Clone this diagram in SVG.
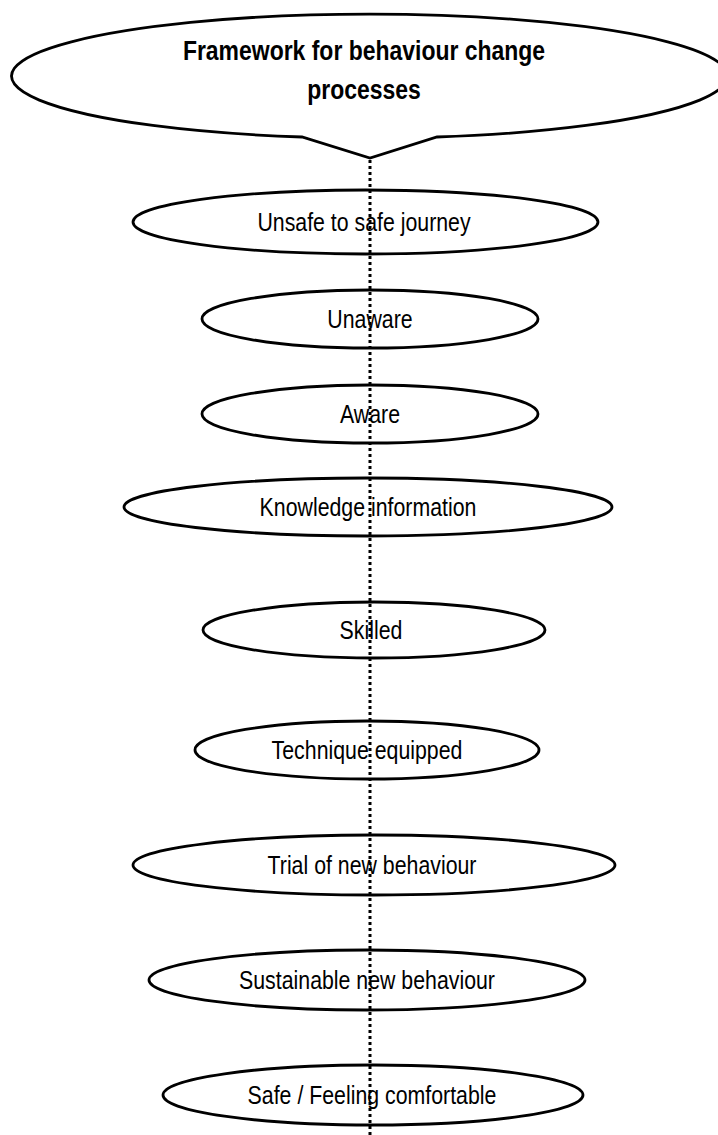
<svg xmlns="http://www.w3.org/2000/svg" width="718" height="1135" viewBox="0 0 718 1135">
<style>
.n{fill:#fff;stroke:#000;stroke-width:2.8}
.t{font-family:"Liberation Sans",Arial,sans-serif;font-size:26px;fill:#000;text-anchor:middle}
.b{font-weight:bold;font-size:28px}
.c{fill:none;stroke:#000;stroke-width:3;stroke-dasharray:3 3}
</style>
<rect width="718" height="1135" fill="#fff"/>
<g id="title">
<path class="n" d="M302,137 A358,62 0 1 1 437,137 L370,158 Z"/>
<text class="t b" transform="translate(364,60) scale(0.82,1)">Framework for behaviour change</text>
<text class="t b" transform="translate(364,99) scale(0.82,1)">processes</text>
</g>
<g id="n1"><ellipse class="n" cx="365.5" cy="222" rx="232.5" ry="32"/><text class="t" transform="translate(364,231) scale(0.82,1)">Unsafe to safe journey</text></g>
<g id="n2"><ellipse class="n" cx="370" cy="319" rx="168" ry="29"/><text class="t" transform="translate(370,328) scale(0.82,1)">Unaware</text></g>
<g id="n3"><ellipse class="n" cx="370" cy="414" rx="168" ry="29"/><text class="t" transform="translate(370,423) scale(0.82,1)">Aware</text></g>
<g id="n4"><ellipse class="n" cx="368" cy="507" rx="244" ry="29"/><text class="t" transform="translate(368,516) scale(0.82,1)">Knowledge information</text></g>
<g id="n5"><ellipse class="n" cx="374" cy="630" rx="171" ry="28"/><text class="t" transform="translate(371,639) scale(0.82,1)">Skilled</text></g>
<g id="n6"><ellipse class="n" cx="367" cy="750" rx="172" ry="29"/><text class="t" transform="translate(367,759) scale(0.82,1)">Technique equipped</text></g>
<g id="n7"><ellipse class="n" cx="374" cy="865" rx="241" ry="30"/><text class="t" transform="translate(372,874) scale(0.82,1)">Trial of new behaviour</text></g>
<g id="n8"><ellipse class="n" cx="367" cy="980" rx="218" ry="30"/><text class="t" transform="translate(367,989) scale(0.82,1)">Sustainable new behaviour</text></g>
<g id="n9"><ellipse class="n" cx="373" cy="1095" rx="210" ry="30"/><text class="t" transform="translate(372,1104) scale(0.82,1)">Safe / Feeling comfortable</text></g>
<g id="connectors">
<line class="c" x1="370" y1="160" x2="370" y2="1135"/>
</g>
</svg>
